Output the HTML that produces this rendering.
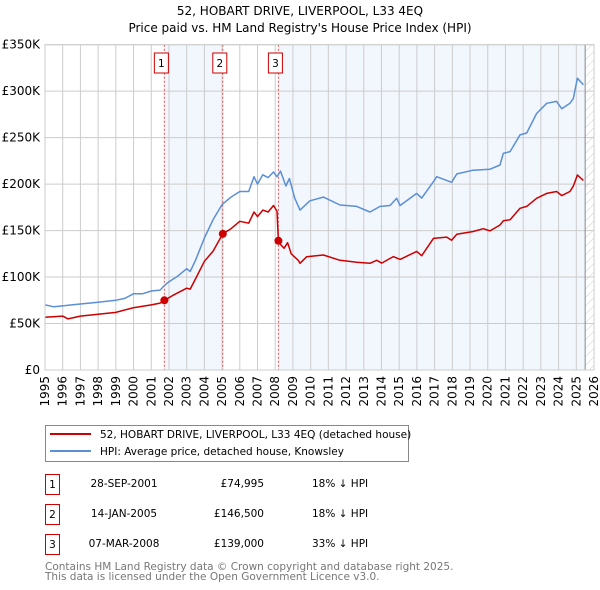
<!DOCTYPE html>
<html><head><meta charset="utf-8">
<style>
body{margin:0;background:#fff;font-family:"Liberation Sans","DejaVu Sans",sans-serif;}
#wrap{position:relative;width:600px;height:590px;overflow:hidden;}
svg text{font-family:"DejaVu Sans","Liberation Sans",sans-serif;}
</style></head>
<body>
<div id="wrap">
<svg id="chart" width="600" height="590">
  <defs>
    <pattern id="hatch" width="6" height="6" patternUnits="userSpaceOnUse" patternTransform="rotate(45)">
      <line x1="0" y1="0" x2="0" y2="6" stroke="#ccc" stroke-width="1"/>
    </pattern>
  </defs>
  <text x="300" y="15" text-anchor="middle" font-size="12" fill="#000">52, HOBART DRIVE, LIVERPOOL, L33 4EQ</text>
  <text x="300" y="32" text-anchor="middle" font-size="12" fill="#000">Price paid vs. HM Land Registry's House Price Index (HPI)</text>
</svg>
</div>
<script>
const yTicks=[0,50,100,150,200,250,300,350];
const yTickLabels=["£0","£50K","£100K","£150K","£200K","£250K","£300K","£350K"];
const xYears=[1995,1996,1997,1998,1999,2000,2001,2002,2003,2004,2005,2006,2007,2008,2009,2010,2011,2012,2013,2014,2015,2016,2017,2018,2019,2020,2021,2022,2023,2024,2025,2026];
const saleYears=[2001.74,2005.04,2008.18];
const salePrices=[74.995,146.5,139];
const saleLabels=["1","2","3"];
const hpiYears=[1995,1995.5,1996,1996.5,1997,1998,1999,1999.5,2000,2000.5,2001,2001.5,2001.75,2002,2002.5,2003,2003.2,2003.5,2004,2004.5,2005,2005.5,2006,2006.5,2006.8,2007,2007.3,2007.6,2007.9,2008.1,2008.3,2008.6,2008.8,2009.1,2009.4,2009.96,2010.72,2011.66,2012.6,2013.35,2013.92,2014.48,2014.86,2015.05,2015.99,2016.27,2016.93,2017.12,2017.96,2018.25,2019.18,2020.13,2020.69,2020.88,2021.26,2021.82,2022.2,2022.76,2023.33,2023.89,2024.18,2024.64,2024.83,2025.06,2025.4];
const hpiValues=[70,68,69,70,71,73,75,77,82,82,85,86,91,95,101,109,106,118,142,162,178,186,192,192,208,200,210,207,213,208,214,198,206,185,172,182,186,177.5,176,170,176,177,184.7,177,190,185,202.6,208,202,211,215,216,220.6,233,235,253,255,276,287,289,281,287,292,314,307];
const ppYears=[1995,1996,1996.3,1997,1998,1999,2000,2001,2001.5,2001.74,2002.2,2003,2003.2,2003.5,2004,2004.5,2005.04,2005.5,2006,2006.5,2006.8,2007,2007.3,2007.6,2007.9,2008.1,2008.18,2008.3,2008.5,2008.7,2008.9,2009.3,2009.4,2009.78,2010.72,2011.66,2012.6,2013.35,2013.73,2014.01,2014.67,2015.05,2015.99,2016.27,2016.93,2017.68,2017.96,2018.25,2019.18,2019.75,2020.13,2020.69,2020.88,2021.26,2021.82,2022.2,2022.76,2023.33,2023.89,2024.18,2024.64,2024.83,2025.06,2025.4];
const ppValues=[56.7,58,55,58,60,62,67,70,72,75,80,88,87,98,117,128,146.5,152,160,158,170,165,172,170,177,171,139,135,131,137,125,118,114.8,121.9,123.7,118,116,114.8,118,115,122,119,127.6,123,141.6,143,139.5,146,149,152,149.7,156,160.5,161.7,174,176,184.7,190,192,187.6,192,197.8,209.8,204];

const L=45,R=594,T=44.7,B=370;
const x0=1995,x1=2026,ymax=350;
const sx=v=>L+(v-x0)/(x1-x0)*(R-L);
const sy=v=>B-v/ymax*(B-T);
const svg=document.getElementById('chart');
const NS='http://www.w3.org/2000/svg';
function mk(tag,attrs,parent){const e=document.createElementNS(NS,tag);for(const k in attrs)e.setAttribute(k,attrs[k]);(parent||svg).appendChild(e);return e;}

let r=mk('rect',{x:sx(saleYears[0]),y:T,width:sx(saleYears[1])-sx(saleYears[0]),height:B-T,fill:'#f2f6fd'});


const hatchStart=2025.5;
r=mk('rect',{x:sx(saleYears[2]),y:T,width:sx(hatchStart)-sx(saleYears[2]),height:B-T,fill:'#f2f6fd'});


r=mk('rect',{x:sx(hatchStart),y:T,width:R-sx(hatchStart),height:B-T,fill:'url(#hatch)'});



yTicks.forEach((v,i)=>{
  const g=mk('line',{x1:L,x2:R,y1:sy(v),y2:sy(v),stroke:'#ccc','stroke-width':1});
  
  
  const t=mk('text',{x:L-5,y:sy(v)+4,'text-anchor':'end','font-size':12,fill:'#000'});
  t.textContent=yTickLabels[i];
  
  
});
xYears.forEach(v=>{
  const g=mk('line',{x1:sx(v),x2:sx(v),y1:T,y2:B,stroke:'#ccc','stroke-width':1});
  
  
  const t=mk('text',{x:0,y:0,'text-anchor':'end','font-size':12,fill:'#000',transform:`translate(${sx(v)+4},${B+6}) rotate(-90)`});
  t.textContent=String(v);
  
  
});
let ln=mk('line',{x1:sx(hatchStart),x2:sx(hatchStart),y1:T,y2:B,stroke:'#888','stroke-width':1});



saleYears.forEach((v,i)=>{
  const l=mk('line',{x1:sx(v),x2:sx(v),y1:T,y2:B,stroke:'#e05050','stroke-width':1,'stroke-dasharray':'2,2'});
  
  
  const bx=mk('rect',{x:sx(v)-10,y:53,width:14,height:20,fill:'#fff',stroke:'#c00','stroke-width':1});
  
  
  const t=mk('text',{x:sx(v)-3,y:67,'text-anchor':'middle','font-size':10.5,fill:'#000'});
  t.textContent=saleLabels[i];
  
  
});

function path(xs,ys){return xs.map((v,i)=>(i?'L':'M')+sx(v).toFixed(1)+','+sy(ys[i]).toFixed(1)).join('');}
let p=mk('path',{d:path(hpiYears,hpiValues),fill:'none',stroke:'#5b8fd6','stroke-width':1.5,'stroke-linejoin':'round'});


p=mk('path',{d:path(ppYears,ppValues),fill:'none',stroke:'#cc0000','stroke-width':1.5,'stroke-linejoin':'round'});


saleYears.forEach((v,i)=>{
  const c=mk('circle',{cx:sx(v),cy:sy(salePrices[i]),r:4,fill:'#cc0000'});
  
  
});
let bd=mk('rect',{x:L,y:T,width:R-L,height:B-T,fill:'none',stroke:'#ccc','stroke-width':1});



const lg=mk('g',{});


mk('rect',{x:45.5,y:425.5,width:363,height:36,fill:'#fff',stroke:'#888','stroke-width':1},lg);
let e=mk('line',{x1:50,x2:91,y1:434,y2:434,stroke:'#cc0000','stroke-width':2},lg);


let t=mk('text',{x:100,y:438,'font-size':10.5,fill:'#000'},lg);
t.textContent='52, HOBART DRIVE, LIVERPOOL, L33 4EQ (detached house)';


e=mk('line',{x1:50,x2:91,y1:451,y2:451,stroke:'#5b8fd6','stroke-width':2},lg);


t=mk('text',{x:100,y:455,'font-size':10.5,fill:'#000'},lg);
t.textContent='HPI: Average price, detached house, Knowsley';



const tDates=["28-SEP-2001","14-JAN-2005","07-MAR-2008"];
const tPrices=["£74,995","£146,500","£139,000"];
const tHpi=["18% ↓ HPI","18% ↓ HPI","33% ↓ HPI"];
tDates.forEach((d,i)=>{
  const y=487+i*30;
  const b=mk('rect',{x:45.5,y:y-12.5,width:14,height:20,fill:'#fff',stroke:'#c00','stroke-width':1});
  
  
  let tt=mk('text',{x:52.5,y:y+1,'text-anchor':'middle','font-size':10.5,fill:'#000'});
  tt.textContent=saleLabels[i];
  
  
  tt=mk('text',{x:124,y:y,'text-anchor':'middle','font-size':10.5,fill:'#000'});
  tt.textContent=d;
  
  
  tt=mk('text',{x:264,y:y,'text-anchor':'end','font-size':10.5,fill:'#000'});
  tt.textContent=tPrices[i];
  
  
  tt=mk('text',{x:312,y:y,'font-size':10.5,fill:'#000'});
  tt.textContent=tHpi[i];
  
  
});
t=mk('text',{x:45,y:570,'font-size':10.5,fill:'#777'});
t.textContent='Contains HM Land Registry data © Crown copyright and database right 2025.';


t=mk('text',{x:45,y:580,'font-size':10.5,fill:'#777'});
t.textContent='This data is licensed under the Open Government Licence v3.0.';


</script>
</body></html>
